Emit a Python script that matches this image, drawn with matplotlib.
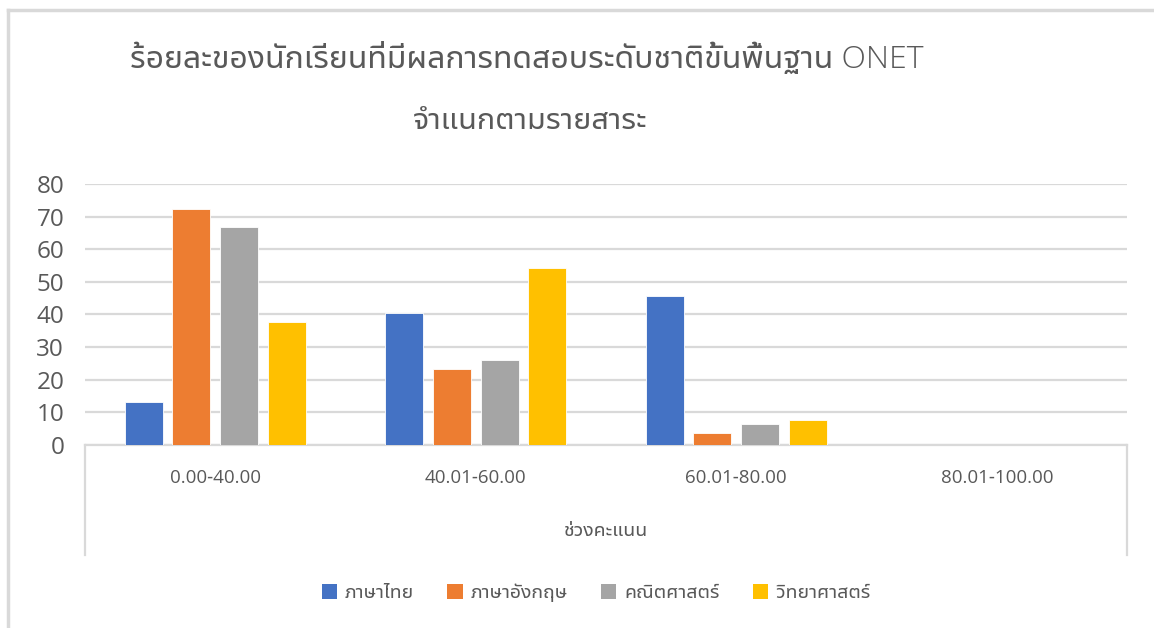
import matplotlib
matplotlib.use("Agg")
import numpy as np
import matplotlib.pyplot as plt
from matplotlib.lines import Line2D
from matplotlib.patches import Patch

# -----------------------------------------
# DATA
# -----------------------------------------
categories = ["0.00-40.00", "40.01-60.00", "60.01-80.00", "80.01-100.00"]
thai = [13.1, 40.4, 45.6, 0]
english = [72.4, 23.4, 3.8, 0]
math = [66.8, 26.0, 6.3, 0]
science = [37.8, 54.3, 7.6, 0]

series_names = ["ภาษาไทย", "ภาษาอังกฤษ", "คณิตศาสตร์", "วิทยาศาสตร์"]
colors = ["#4472C4", "#ED7D31", "#A5A5A5", "#FFC000"]

title1 = "ร้อยละของนักเรียนที่มีผลการทดสอบระดับชาติขั้นพื้นฐาน ONET"
title2 = "จำแนกตามรายสาระ"
x_title = "ช่วงคะแนน"

THAI = ["Noto Sans Thai UI", "Open Sans", "DejaVu Sans"]
TXT = "#595959"
GRID = "#D9D9D9"

# -----------------------------------------
# FIGURE
# -----------------------------------------
W, H = 1154, 628
fig = plt.figure(figsize=(W / 100, H / 100), dpi=100)

def fx(px):
    return px / W

def fy(py):
    return 1 - py / H

ax = fig.add_axes([fx(85), fy(445), fx(1127) - fx(85), fy(184) - fy(445)])

x = np.arange(len(categories))
step = 0.183
width = 0.146
data = [thai, english, math, science]
for i, vals in enumerate(data):
    ax.bar(x + (i - 1.5) * step, vals, width=width, color=colors[i],
           edgecolor="white", linewidth=0.6, zorder=3)

ax.set_xlim(-0.5, len(categories) - 0.5)
ax.set_ylim(0, 80)
ax.set_yticks(range(0, 81, 10))
ax.yaxis.grid(True, color=GRID, linewidth=1.6, zorder=0)
ax.set_axisbelow(True)
for s in ["top", "right", "left"]:
    ax.spines[s].set_visible(False)
ax.spines["bottom"].set_color(GRID)
ax.spines["bottom"].set_linewidth(1.6)
ax.tick_params(axis="y", length=0, labelsize=17.5, labelcolor=TXT, pad=15)
ax.tick_params(axis="x", length=0, labelbottom=False)
for lab in ax.get_yticklabels():
    lab.set_family(["Open Sans", "DejaVu Sans"])

# category labels under the axis
for i, c in enumerate(categories):
    ax.text(i, -0.125, c, transform=ax.get_xaxis_transform(), ha="center", va="center",
            fontsize=13.5, color=TXT, family=THAI)

# vertical lines of category box
for px in [85, 1127]:
    fig.add_artist(Line2D([fx(px), fx(px)], [fy(445), fy(555)], color=GRID, linewidth=1.6))

# outer chart frame
fig.add_artist(Line2D([fx(8), fx(8)], [fy(10), 0], color=GRID, linewidth=2.5))
fig.add_artist(Line2D([fx(8), 1], [fy(10), fy(10)], color=GRID, linewidth=2.5))

# titles
fig.text(fx(527), fy(60), title1, ha="center", va="center", fontsize=23, color=TXT,
         family=THAI, fontweight="light")
fig.text(fx(530), fy(121), title2, ha="center", va="center", fontsize=22, color=TXT,
         family=THAI, fontweight="light")
fig.text(fx(606), fy(531), x_title, ha="center", va="center", fontsize=14, color=TXT,
         family=THAI)

# legend
handles = [Patch(facecolor=colors[i], edgecolor="none") for i in range(4)]
fig.legend(handles, series_names, loc="center", bbox_to_anchor=(fx(596), fy(593)),
           ncol=4, frameon=False, handlelength=0.8, handleheight=0.8,
           handletextpad=0.4, columnspacing=1.7,
           prop={"family": THAI, "size": 14}, labelcolor=TXT)

fig.savefig("out.png", dpi=100)
